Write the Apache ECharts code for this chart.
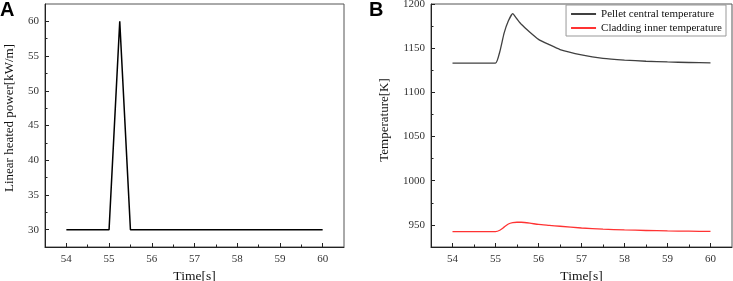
<!DOCTYPE html>
<html>
<head>
<meta charset="utf-8">
<script src="https://cdn.jsdelivr.net/npm/echarts@6/dist/echarts.min.js"></script>
<style>
html,body{margin:0;padding:0;background:#fff;}
#chart{width:733px;height:281px;}
</style>
</head>
<body>
<div id="chart"></div>
<script>
// ---- data ----
const powerTime = [54, 55, 55.25, 55.5, 60];
const powerValues = [30, 30, 60, 30, 30];

const tempTime = [54, 55, 55.1, 55.2, 55.3, 55.4, 55.5, 55.6, 55.8, 56, 56.25, 56.5, 57, 57.5, 58, 58.5, 59, 59.5, 60];
const pelletTemp = [1133, 1133, 1146, 1167, 1181, 1189, 1183, 1177, 1168, 1160, 1154, 1148.5, 1142.5, 1138.5, 1136.5, 1135.2, 1134.4, 1133.8, 1133.3];
const claddingTemp = [942.5, 942.5, 944, 947.5, 951, 952.5, 953, 953, 952, 950.5, 949.5, 948.5, 946.5, 945.2, 944.3, 943.7, 943.2, 942.9, 942.6];

const seriesNames = ['Pellet central temperature', 'Cladding inner temperature'];

const xMajorTicks = [54, 55, 56, 57, 58, 59, 60];
const xMinorTicks = [54.5, 55.5, 56.5, 57.5, 58.5, 59.5];
const powerMajorTicks = [30, 35, 40, 45, 50, 55, 60];
const powerMinorTicks = [32.5, 37.5, 42.5, 47.5, 52.5, 57.5];
const tempMajorTicks = [950, 1000, 1050, 1100, 1150, 1200];
const tempMinorTicks = [975, 1025, 1075, 1125, 1175];

// ---- chart ----
const serif = '"Liberation Serif", "DejaVu Serif", serif';
const lblStyle = { fontFamily: serif, fontSize: 11, color: '#333', formatter: v => String(v) };
const nameStyle = { fontFamily: serif, fontSize: 13.5, color: '#111' };

function pairs(xs, ys) { return xs.map((x, i) => [x, ys[i]]); }

function xAxes(gridIndex) {
  return [
    {
      type: 'value', gridIndex, min: 53.5, max: 60.5, position: 'bottom',
      name: 'Time[s]', nameLocation: 'middle', nameGap: 20, nameTextStyle: nameStyle,
      axisLine: { show: true, lineStyle: { color: '#222', width: 1 } },
      axisTick: { show: true, inside: true, length: 4, customValues: xMajorTicks, lineStyle: { color: '#222' } },
      axisLabel: { show: true, customValues: xMajorTicks, margin: 7, ...lblStyle },
      splitLine: { show: false }
    },
    {
      type: 'value', gridIndex, min: 53.5, max: 60.5, position: 'bottom',
      axisLine: { show: false },
      axisTick: { show: true, inside: true, length: 2.5, customValues: xMinorTicks, lineStyle: { color: '#222' } },
      axisLabel: { show: false },
      splitLine: { show: false }
    }
  ];
}

function yAxes(gridIndex, min, max, major, minor, name, gap, shift) {
  return [
    {
      type: 'value', gridIndex, min, max, position: 'left',
      name, nameLocation: 'middle', nameGap: gap,
      nameTextStyle: { ...nameStyle, fontSize: 13, padding: [0, 0, 0, shift] },
      axisLine: { show: true, lineStyle: { color: '#222', width: 1 } },
      axisTick: { show: true, inside: true, length: 4, customValues: major, lineStyle: { color: '#222' } },
      axisLabel: { show: true, customValues: major, margin: 6, ...lblStyle },
      splitLine: { show: false }
    },
    {
      type: 'value', gridIndex, min, max, position: 'left',
      axisLine: { show: false },
      axisTick: { show: true, inside: true, length: 2.5, customValues: minor, lineStyle: { color: '#222' } },
      axisLabel: { show: false },
      splitLine: { show: false }
    }
  ];
}

const chart = echarts.init(document.getElementById('chart'), null, { renderer: 'canvas' });
chart.setOption({
  animation: false,
  backgroundColor: '#fff',
  grid: [
    { left: 45, top: 4, width: 299, height: 243, show: true, borderColor: '#555', borderWidth: 1, containLabel: false, outerBoundsMode: 'none' },
    { left: 431, top: 4, width: 301, height: 243, show: true, borderColor: '#555', borderWidth: 1, containLabel: false, outerBoundsMode: 'none' }
  ],
  xAxis: [...xAxes(0), ...xAxes(1)],
  yAxis: [
    ...yAxes(0, 27.5, 62.5, powerMajorTicks, powerMinorTicks, 'Linear heated power[kW/m]', 29, 15),
    ...yAxes(1, 925, 1200, tempMajorTicks, tempMinorTicks, 'Temperature[K]', 40, 11)
  ],
  legend: {
    data: seriesNames,
    orient: 'vertical',
    right: 7, top: 5,
    padding: [3, 4, 2, 4],
    itemGap: 2,
    itemWidth: 25, itemHeight: 12,
    itemStyle: { opacity: 0 },
    borderColor: '#999', borderWidth: 1,
    textStyle: { fontFamily: serif, fontSize: 11, color: '#111', lineHeight: 12 }
  },
  graphic: [
    { type: 'text', left: 0, top: 0, style: { text: 'A', font: 'bold 20px "Liberation Sans", Arial, sans-serif', fill: '#000' } },
    { type: 'text', left: 369, top: 0, style: { text: 'B', font: 'bold 20px "Liberation Sans", Arial, sans-serif', fill: '#000' } }
  ],
  series: [
    {
      type: 'line', xAxisIndex: 0, yAxisIndex: 0, data: pairs(powerTime, powerValues),
      showSymbol: false, lineStyle: { color: '#000', width: 1.5 }, itemStyle: { color: '#000' }
    },
    {
      name: seriesNames[0], type: 'line', xAxisIndex: 2, yAxisIndex: 2, data: pairs(tempTime, pelletTemp),
      showSymbol: false, smooth: 0.15, lineStyle: { color: '#404040', width: 1.3 }, itemStyle: { color: '#404040' }
    },
    {
      name: seriesNames[1], type: 'line', xAxisIndex: 2, yAxisIndex: 2, data: pairs(tempTime, claddingTemp),
      showSymbol: false, smooth: 0.2, lineStyle: { color: '#ff3333', width: 1.3 }, itemStyle: { color: '#ff3333' }
    }
  ]
});
</script>
</body>
</html>
